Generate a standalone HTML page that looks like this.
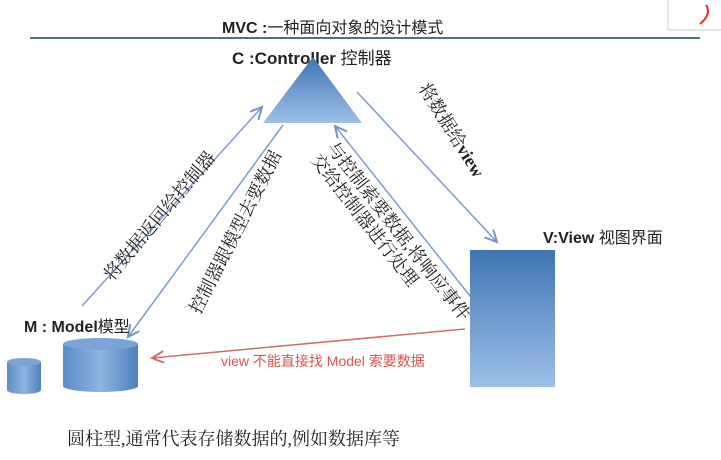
<!DOCTYPE html>
<html><head><meta charset="utf-8"><style>
body{margin:0;background:#fff;width:721px;height:455px;overflow:hidden}
text{fill:#222}
.s{font-family:"Liberation Sans","Noto Sans CJK SC",sans-serif}
.f{font-family:"Liberation Serif","Noto Serif CJK SC",serif}
</style></head><body>
<svg width="721" height="455" viewBox="0 0 721 455" xmlns="http://www.w3.org/2000/svg">
<defs>
<linearGradient id="g" x1="0" y1="0" x2="0" y2="1"><stop offset="0" stop-color="#3f74b3"/><stop offset="1" stop-color="#9ec0e8"/></linearGradient>
<linearGradient id="c" x1="0" y1="0" x2="1" y2="0"><stop offset="0" stop-color="#5b8cc7"/><stop offset="0.5" stop-color="#8fb4e0"/><stop offset="1" stop-color="#4f80bd"/></linearGradient>
<marker id="a" markerWidth="10" markerHeight="10" refX="8" refY="4" orient="auto"><path d="M0,0 L8,4 L0,8" fill="none" stroke="#6f95c4" stroke-width="1.3"/></marker>
<marker id="r" markerWidth="10" markerHeight="10" refX="8" refY="4" orient="auto"><path d="M0,0 L8,4 L0,8" fill="none" stroke="#d46a6a" stroke-width="1.3"/></marker>
</defs>
<rect x="668" y="-2" width="60" height="32" fill="#fff" stroke="#ccc"/>
<path d="M706,5 Q712,14 700,24" stroke="#e03030" stroke-width="2" fill="none"/>
<line x1="30" y1="38" x2="700" y2="38" stroke="#4a6f9c" stroke-width="2"/>
<text class="s" x="222" y="33" font-size="16" font-weight="bold">MVC :<tspan font-weight="normal">一种面向对象的设计模式</tspan></text>
<text class="s" x="232" y="64" font-size="17" font-weight="bold">C :Controller <tspan font-weight="normal">控制器</tspan></text>
<polygon points="313,57 263,123 362,123" fill="url(#g)"/>
<line x1="82" y1="306" x2="262" y2="107" stroke="#7b9ccb" stroke-width="1.5" marker-end="url(#a)"/>
<line x1="283" y1="125" x2="128" y2="337" stroke="#7b9ccb" stroke-width="1.5" marker-end="url(#a)"/>
<line x1="357" y1="92" x2="497" y2="242" stroke="#7b9ccb" stroke-width="1.5" marker-end="url(#a)"/>
<line x1="474" y1="301" x2="335" y2="126" stroke="#7b9ccb" stroke-width="1.5" marker-end="url(#a)"/>
<line x1="465" y1="329" x2="152" y2="358" stroke="#d46a6a" stroke-width="1.5" marker-end="url(#r)"/>
<text class="f" transform="translate(112,282) rotate(-50)" font-size="18">将数据返回给控制器</text>
<text class="f" transform="translate(200,315) rotate(-63)" font-size="18">控制器跟模型去要数据</text>
<text class="f" transform="translate(418,88) rotate(58)" font-size="18">将数据给<tspan font-weight="bold">view</tspan></text>
<text class="f" transform="translate(326,148) rotate(52)" font-size="18">与控制索要数据,将响应事件</text>
<text class="f" transform="translate(310,160) rotate(52)" font-size="18">交给控制器进行处理</text>
<text class="s" x="221" y="366" font-size="14" style="fill:#e05050">view 不能直接找 Model 索要数据</text>
<rect x="470" y="250" width="85" height="137" fill="url(#g)"/>
<text class="s" x="543" y="243" font-size="16" font-weight="bold">V:View <tspan font-weight="normal">视图界面</tspan></text>
<text class="s" x="24" y="332" font-size="16" font-weight="bold">M : Model<tspan font-weight="normal">模型</tspan></text>
<path d="M63,344 V386 A37.5,6 0 0 0 138,386 V344 Z" fill="url(#c)"/>
<ellipse cx="100.5" cy="344" rx="37.5" ry="6" fill="#7aa3d6"/>
<path d="M7,362 V390 A17,4 0 0 0 41,390 V362 Z" fill="url(#c)"/>
<ellipse cx="24" cy="362" rx="17" ry="4" fill="#7aa3d6"/>
<text class="f" x="67" y="445" font-size="18">圆柱型,通常代表存储数据的,例如数据库等</text>
</svg>
</body></html>
